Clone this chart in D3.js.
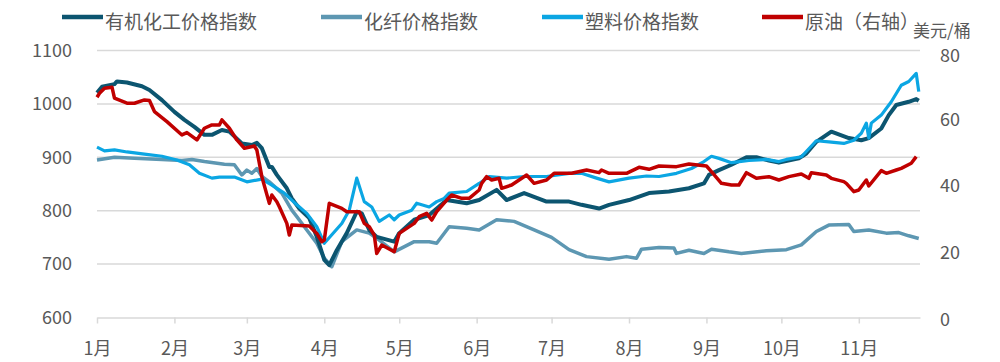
<!DOCTYPE html>
<html>
<head>
<meta charset="utf-8">
<script src="https://cdn.jsdelivr.net/npm/d3@7"></script>
<style>
  body { margin: 0; background: #fff; }
  text { font-family: "Noto Sans CJK SC", "Noto Sans", sans-serif; fill: #595959; }
</style>
</head>
<body>
<div id="chart"></div>
<script>
// Series: [MM-DD, value] for 2020
const organicChem = [
  ["01-01",1021],["01-03",1032],["01-08",1037],["01-09",1042],["01-13",1040],["01-19",1033],
  ["01-22",1026],["01-27",1007],["02-01",985],["02-05",970],["02-09",957],["02-13",942],
  ["02-16",942],["02-20",951],["02-23",948],["02-28",926],["03-03",923],["03-05",927],
  ["03-07",917],["03-10",882],["03-11",882],["03-13",867],["03-17",842],["03-19",823],
  ["03-22",804],["03-26",786],["03-29",751],["04-01",708],["04-03",698],["04-06",726],
  ["04-10",758],["04-14",798],["04-16",795],["04-19",764],["04-22",751],["04-29",742],
  ["05-01",758],["05-07",783],["05-13",792],["05-20",820],["05-28",814],["06-02",820],
  ["06-09",839],["06-13",820],["06-20",833],["06-29",817],["07-08",817],["07-13",811],
  ["07-20",804],["07-24",811],["08-01",820],["08-09",833],["08-17",836],["08-25",842],
  ["08-31",851],["09-02",867],["09-06",876],["09-11",886],["09-17",900],["09-21",900],
  ["09-26",894],["09-30",890],["10-08",898],["10-11",907],["10-15",929],["10-21",948],
  ["10-28",936],["11-02",932],["11-05",936],["11-10",954],["11-13",979],["11-16",998],
  ["11-21",1004],["11-24",1009],["11-25",1006]
];
const fiber = [
  ["01-01",895],["01-08",900],["01-16",898],["01-27",896],["02-04",894],["02-08",896],
  ["02-13",892],["02-21",887],["02-25",886],["02-28",867],["03-01",876],["03-03",870],
  ["03-05",879],["03-07",864],["03-10",854],["03-15",833],["03-19",801],["03-21",789],
  ["03-25",764],["03-29",739],["04-01",711],["04-04",695],["04-08",742],["04-14",764],
  ["04-19",758],["04-23",745],["04-29",723],["05-07",742],["05-13",742],["05-16",739],
  ["05-21",770],["05-28",767],["06-02",764],["06-09",783],["06-16",780],["06-24",764],
  ["07-01",750],["07-08",727],["07-15",714],["07-24",709],["07-31",714],["08-04",711],
  ["08-06",728],["08-13",731],["08-19",730],["08-20",720],["08-25",726],["08-31",720],
  ["09-03",728],["09-10",723],["09-15",720],["09-25",725],["10-03",727],["10-09",736],
  ["10-15",761],["10-20",773],["10-28",774],["10-30",761],["11-05",764],["11-12",758],
  ["11-17",759],["11-21",753],["11-25",748]
];
const plastic = [
  ["01-01",919],["01-04",912],["01-08",914],["01-13",910],["01-20",906],["01-27",902],
  ["02-02",895],["02-07",886],["02-11",870],["02-16",861],["02-19",863],["02-25",863],
  ["03-01",854],["03-07",859],["03-11",848],["03-16",833],["03-21",811],["03-25",795],
  ["03-29",770],["04-01",739],["04-08",776],["04-11",801],["04-14",861],["04-17",817],
  ["04-20",807],["04-23",780],["04-27",792],["04-29",783],["05-01",792],["05-06",801],
  ["05-08",814],["05-13",807],["05-16",817],["05-19",823],["05-21",833],["05-28",836],
  ["06-02",851],["06-06",864],["06-13",861],["06-20",864],["06-29",864],["07-08",870],
  ["07-13",870],["07-19",861],["07-24",854],["08-01",861],["08-08",865],["08-13",864],
  ["08-20",870],["08-26",879],["08-31",892],["09-03",902],["09-06",898],["09-11",890],
  ["09-18",894],["09-25",896],["09-30",892],["10-03",896],["10-09",901],["10-15",931],
  ["10-20",929],["10-26",926],["10-30",932],["11-02",945],["11-04",964],["11-05",936],
  ["11-06",964],["11-10",979],["11-14",1004],["11-18",1035],["11-21",1042],["11-24",1057],
  ["11-25",1023]
];
const crude = [
  ["01-01",66.0],["01-02",67.2],["01-04",68.7],["01-07",69.0],["01-08",65.7],["01-13",64.2],
  ["01-16",64.2],["01-20",65.2],["01-22",65.0],["01-24",61.7],["01-29",58.7],["02-04",54.7],
  ["02-06",55.4],["02-10",53.2],["02-13",56.7],["02-16",57.7],["02-19",57.7],["02-20",59.2],
  ["02-23",56.7],["02-26",53.2],["02-29",50.7],["03-04",51.4],["03-05",50.2],["03-07",42.2],
  ["03-10",34.2],["03-11",36.7],["03-13",34.7],["03-14",33.2],["03-17",28.2],["03-18",24.7],
  ["03-19",27.7],["03-26",27.4],["03-29",25.2],["03-31",22.7],["04-01",23.2],["04-03",34.2],
  ["04-08",32.7],["04-10",31.7],["04-15",31.7],["04-17",28.2],["04-19",27.2],["04-21",24.7],
  ["04-22",19.2],["04-24",21.7],["04-29",19.7],["05-01",25.2],["05-07",28.2],["05-09",30.2],
  ["05-12",31.2],["05-14",29.2],["05-16",31.7],["05-20",35.2],["05-22",36.7],["05-26",35.7],
  ["05-29",35.7],["06-02",38.2],["06-03",40.2],["06-05",42.2],["06-07",41.2],["06-10",41.7],
  ["06-11",38.7],["06-15",39.7],["06-21",42.7],["06-24",40.2],["06-29",41.2],["07-02",43.2],
  ["07-09",43.2],["07-15",44.2],["07-20",43.4],["07-21",44.2],["07-24",43.2],["07-31",43.2],
  ["08-05",45.0],["08-09",44.4],["08-13",45.4],["08-20",45.2],["08-25",46.0],["09-01",45.4],
  ["09-03",43.7],["09-07",40.2],["09-11",39.7],["09-14",39.7],["09-17",43.4],["09-21",41.7],
  ["09-26",42.2],["09-30",41.2],["10-04",42.2],["10-09",43.0],["10-12",41.7],["10-13",43.4],
  ["10-19",42.7],["10-21",41.7],["10-26",40.7],["10-27",40.2],["10-30",37.7],["11-01",38.2],
  ["11-04",41.2],["11-05",39.4],["11-10",44.0],["11-12",43.2],["11-16",44.2],["11-18",44.7],
  ["11-22",46.2],["11-24",48.2]
];

const seriesNames = ["有机化工价格指数", "化纤价格指数", "塑料价格指数", "原油（右轴）"];
const monthLabels = ["1月","2月","3月","4月","5月","6月","7月","8月","9月","10月","11月"];
const leftTicks = [600, 700, 800, 900, 1000, 1100];
const rightTicks = [0, 20, 40, 60, 80];
const rightUnit = "美元/桶";

const width = 1000, height = 362;
const margins = {top: 50.5, right: 80, bottom: 44.5, left: 97};

const parseDay = d3.timeParse("%Y-%m-%d");
const toPoints = arr => arr.map(([d, v]) => ({date: parseDay("2020-" + d), value: v}));

const svg = d3.select("#chart")
  .append("svg")
  .attr("width", width)
  .attr("height", height);

const xScale = d3.scaleTime()
  .domain([new Date(2020, 0, 1), new Date(2020, 10, 25, 12)])
  .range([margins.left, width - margins.right]);

const yLeft = d3.scaleLinear()
  .domain([600, 1100])
  .range([height - margins.bottom, margins.top]);

const yRight = d3.scaleLinear()
  .domain([0, 80])
  .range([height - margins.bottom, margins.top]);

// gridlines
svg.append("g")
  .selectAll("line")
  .data(leftTicks.slice(1))
  .join("line")
    .attr("x1", margins.left)
    .attr("x2", width - margins.right)
    .attr("y1", d => yLeft(d))
    .attr("y2", d => yLeft(d))
    .attr("stroke", "#d9d9d9")
    .attr("stroke-width", 1.5);

// x axis
const months = d3.range(11).map(i => new Date(2020, i, 1));
const xAxis = svg.append("g")
  .attr("transform", `translate(0,${yLeft(600)})`)
  .call(d3.axisBottom(xScale)
    .tickValues(months)
    .tickFormat((d, i) => monthLabels[i])
    .tickSize(6)
    .tickSizeOuter(0));
xAxis.select(".domain").attr("stroke", "#d9d9d9").attr("stroke-width", 1.5);
xAxis.selectAll(".tick line").attr("stroke", "#d9d9d9").attr("stroke-width", 1.5);
xAxis.selectAll(".tick text")
  .attr("y", 31)
  .attr("dy", "0.35em")
  .style("font-size", "18px")
  .style("fill", "#595959");

// left axis labels
svg.append("g")
  .selectAll("text")
  .data(leftTicks)
  .join("text")
    .attr("x", 72)
    .attr("y", d => yLeft(d))
    .attr("dy", "0.35em")
    .attr("text-anchor", "end")
    .style("font-size", "18px")
    .text(d => d);

// right axis labels
svg.append("g")
  .selectAll("text")
  .data(rightTicks)
  .join("text")
    .attr("x", 940)
    .attr("y", d => yRight(d) + (d === 80 ? 5 : 2))
    .attr("dy", "0.35em")
    .attr("text-anchor", "start")
    .style("font-size", "18px")
    .text(d => d);

svg.append("text")
  .attr("x", 913)
  .attr("y", 31)
  .attr("dy", "0.35em")
  .style("font-size", "17px")
  .text(rightUnit);

// lines
const colors = ["#0c5570", "#5d97b2", "#0ba6e3", "#c00000"];
const widths = [4, 3.5, 3.2, 3.5];
const datasets = [organicChem, fiber, plastic, crude].map(toPoints);
const lineLeft = d3.line().x(d => xScale(d.date)).y(d => yLeft(d.value));
const lineRight = d3.line().x(d => xScale(d.date)).y(d => yRight(d.value));

[1, 0, 2, 3].forEach(i => {
  svg.append("path")
    .datum(datasets[i])
    .attr("fill", "none")
    .attr("stroke", colors[i])
    .attr("stroke-width", widths[i])
    .attr("stroke-linejoin", "round")
    .attr("d", i === 3 ? lineRight : lineLeft);
});

// legend
const legendX = [62, 321, 542, 762];
const legend = svg.append("g")
  .selectAll("g")
  .data(seriesNames)
  .join("g")
    .attr("transform", (d, i) => `translate(${legendX[i]},0)`);
legend.append("line")
  .attr("x1", 0).attr("x2", 41)
  .attr("y1", 17).attr("y2", 17)
  .attr("stroke", (d, i) => colors[i])
  .attr("stroke-width", 4.5);
legend.append("text")
  .attr("x", 43)
  .attr("y", 22)
  .attr("dy", "0.35em")
  .style("font-size", "19px")
  .text(d => d);
</script>
</body>
</html>
